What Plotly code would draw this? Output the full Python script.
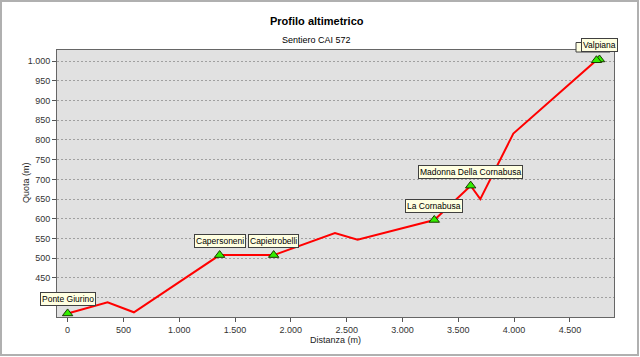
import plotly.graph_objects as go

# Track profile (distance m, elevation m)
track_x = [0, 358, 594, 1362, 1846, 2395, 2598, 3285, 3611, 3697, 3993, 4738, 4765]
track_y = [360, 388, 363, 508, 508, 564, 547, 597, 684, 650, 816, 1002, 1004]

# Waypoints
wp_names = ["Ponte Giurino", "Capersoneni", "Capietrobelli", "La Cornabusa",
            "Madonna Della Cornabusa", "Valpiana"]
wp_x = [0, 1362, 1846, 3285, 3611, 4765]
wp_y = [360, 508, 508, 597, 684, 1004]
hidden_wp_x = [4738]
hidden_wp_y = [1002]

y_ticks = [400, 450, 500, 550, 600, 650, 700, 750, 800, 850, 900, 950, 1000]
y_ticktext = ["", "450", "500", "550", "600", "650", "700", "750", "800", "850", "900", "950", "1.000"]

L, R, T, B = 57, 26, 50, 40
W, H = 640, 357
pw, ph = W - L - R, H - T - B
def px(xp):
    return (xp - L) / pw
def py(yp):
    return (H - B - yp) / ph

FONT = "Liberation Sans, Arial"

fig = go.Figure()
fig.add_trace(go.Scatter(x=track_x, y=track_y, mode="lines",
                         line=dict(color="#FF0000", width=2), hoverinfo="skip"))
fig.add_trace(go.Scatter(x=wp_x + hidden_wp_x, y=wp_y + hidden_wp_y, mode="markers",
                         marker=dict(symbol="triangle-up", size=9, color="#33EE00",
                                     line=dict(color="#1A3A00", width=1)),
                         hoverinfo="skip"))

# shadow box behind the Valpiana label (second, overlapping waypoint)
fig.add_shape(type="rect", xref="paper", yref="paper",
              x0=px(576), x1=px(610), y0=py(52), y1=py(42.5),
              fillcolor="#FFFFE1", line=dict(color="#404040", width=1), layer="above")

for name, x, y in zip(wp_names, wp_x, wp_y):
    fig.add_annotation(x=x, y=y, text=name, showarrow=False, yshift=14,
                       font=dict(family=FONT, size=8.5, color="#000"),
                       bgcolor="#FFFFE1", bordercolor="#404040", borderwidth=1, borderpad=1)

# titles
fig.add_annotation(xref="paper", yref="paper", x=px(317), y=py(21), text="<b>Profilo altimetrico</b>",
                   showarrow=False, xanchor="center", yanchor="middle",
                   font=dict(family=FONT, size=11, color="#000"))
fig.add_annotation(xref="paper", yref="paper", x=px(316), y=py(40), text="Sentiero CAI 572",
                   showarrow=False, xanchor="center", yanchor="middle",
                   font=dict(family=FONT, size=9, color="#000"))
fig.add_annotation(xref="paper", yref="paper", x=px(335), y=py(340), text="Distanza (m)",
                   showarrow=False, xanchor="center", yanchor="middle",
                   font=dict(family=FONT, size=9, color="#222"))
fig.add_annotation(xref="paper", yref="paper", x=px(26), y=py(183), text="Quota (m)",
                   showarrow=False, xanchor="center", yanchor="middle", textangle=-90,
                   font=dict(family=FONT, size=9, color="#222"))

fig.add_shape(type="rect", xref="paper", yref="paper",
              x0=px(1), x1=px(638), y0=py(355), y1=py(1),
              line=dict(color="#B0B0B0", width=2), layer="below")

fig.update_layout(
    width=W, height=H, margin=dict(l=L, r=R, t=T, b=B),
    paper_bgcolor="white", plot_bgcolor="#E1E1E1",
    showlegend=False, separators=",.",
    font=dict(family=FONT, size=10, color="#222"),
)
fig.update_xaxes(range=[-95, 4895], dtick=500, tick0=0, tickformat=",d",
                 showgrid=False, zeroline=False, showline=True, mirror=True,
                 linecolor="#666", linewidth=1, ticks="outside", ticklen=4, tickcolor="#555",
                 tickfont=dict(size=9, color="#333"))
fig.update_yaxes(range=[351, 1028], tickvals=y_ticks, ticktext=y_ticktext,
                 showgrid=True, gridcolor="#A0A0A0", griddash="2px,2px", gridwidth=1,
                 zeroline=False, showline=True, mirror=True,
                 linecolor="#666", linewidth=1, ticks="outside", ticklen=4, tickcolor="#555",
                 tickfont=dict(size=9, color="#333"))

fig.write_html("out.html")
